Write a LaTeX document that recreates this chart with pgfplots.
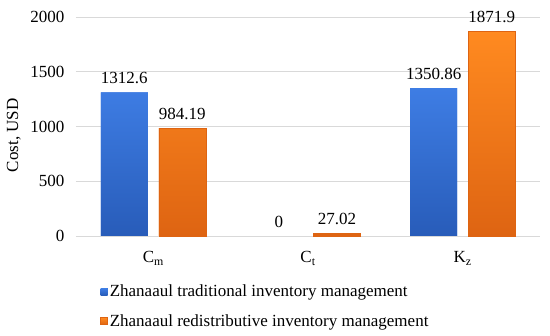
\documentclass[border=0pt]{standalone}
\usepackage{fontspec}
\setmainfont{Liberation Serif}
\newfontfamily\tnr{Liberation Serif}
\usepackage{pgfplots}
\pgfplotsset{compat=1.18}
\definecolor{cblue}{RGB}{50,110,215}
\definecolor{cblueT}{RGB}{62,125,228}
\definecolor{cblueB}{RGB}{40,92,185}
\definecolor{corange}{RGB}{245,128,30}
\definecolor{corangeT}{RGB}{255,138,32}
\definecolor{corangeB}{RGB}{222,100,18}
\definecolor{gridc}{RGB}{217,217,217}
\begin{document}
\begin{tikzpicture}[font=\tnr]
\path[use as bounding box] (0,0) rectangle (550pt,336pt);
\begin{axis}[
  at={(76pt,100pt)}, anchor=south west,
  scale only axis, width=464pt, height=219pt,
  ybar, bar width=47pt,
  xmin=-0.5, xmax=2.5, ymin=0, ymax=2000,
  xtick={0,1,2}, xticklabels={C\textsubscript{m},C\textsubscript{t},K\textsubscript{z}},
  ytick={0,500,1000,1500,2000},
  yticklabel style={/pgf/number format/1000 sep={}},
  ymajorgrids, grid style={gridc, line width=0.8pt},
  axis x line*=bottom, axis y line*=left,
  y axis line style={draw=none},
  x axis line style={gridc, line width=0.8pt, -},
  major tick length=0pt,
  tick label style={font=\tnr\fontsize{17}{19}\selectfont},
  /pgf/number format/assume math mode=true,
  yticklabel style={xshift=-8pt},
  xticklabel style={yshift=-12pt},
  ylabel={Cost, USD},
  ylabel style={at={(axis description cs:-0.134,0.46)}, anchor=center, font=\tnr\fontsize{17}{19}\selectfont},
  clip=false,
  nodes near coords,
  point meta=explicit symbolic,
  every node near coord/.append style={font=\tnr\fontsize{17}{19}\selectfont, yshift=5pt},
  legend style={at={(axis description cs:0.05,-0.21)}, anchor=north west, draw=none,
    font=\tnr\fontsize{17}{19}\selectfont, row sep=12pt, inner sep=1pt},
  legend cell align=left,
  legend image code/.code={\fill[#1] (0pt,-3.5pt) rectangle (7pt,3.5pt);},
]
\addplot[bar shift=-29pt, draw=none, top color=cblueT, bottom color=cblueB, fill=cblue]
  coordinates {(0,1312.6)[1312.6] (2,1350.86)[1350.86]};
\addlegendentry{Zhanaaul traditional inventory management}
\addplot[bar shift=29pt, draw=corangeB, line width=0.4pt, top color=corangeT, bottom color=corangeB, fill=corange]
  coordinates {(0,984.19)[984.19] (1,27.02)[27.02] (2,1871.9)[1871.9]};
\addlegendentry{Zhanaaul redistributive inventory management}
\addplot[forget plot, bar shift=-29pt, draw=none, fill=none]
  coordinates {(1,0)[0]};
\end{axis}
\end{tikzpicture}
\end{document}
